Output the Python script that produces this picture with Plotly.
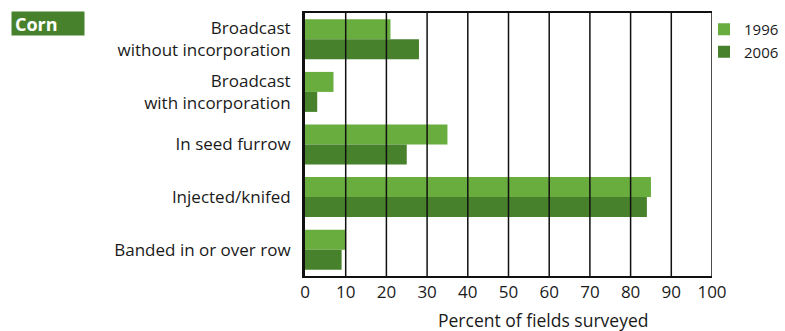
import plotly.graph_objects as go

# Fertilizer placement methods for corn, share of fields surveyed
methods = [
    "Broadcast<br>without incorporation",
    "Broadcast<br>with incorporation",
    "In seed furrow",
    "Injected/knifed",
    "Banded in or over row",
]
pct_1996 = [21, 7, 35, 85, 10]
pct_2006 = [28, 3, 25, 84, 9]
x_ticks = [0, 10, 20, 30, 40, 50, 60, 70, 80, 90, 100]

LIGHT = "#69ad3f"
DARK = "#47812c"
TXT = "#1a1a1a"
FONT = "Open Sans"

L, R, T, B = 305, 73, 13, 55
PW = 785 - L - R
PH = 331 - T - B

fig = go.Figure()
fig.add_trace(go.Bar(y=methods, x=pct_1996, name="1996", orientation="h",
                     marker=dict(color=LIGHT, line=dict(width=0))))
fig.add_trace(go.Bar(y=methods, x=pct_2006, name="2006", orientation="h",
                     marker=dict(color=DARK, line=dict(width=0))))

# vertical grid drawn over the bars
shapes = []
for v in x_ticks[1:]:
    shapes.append(dict(type="line", xref="x", yref="paper", x0=v, x1=v, y0=0, y1=1,
                       line=dict(color="#111111", width=1.5), layer="above"))

fig.update_layout(
    width=785, height=331,
    margin=dict(l=L, r=R, t=T, b=B, autoexpand=False),
    paper_bgcolor="white", plot_bgcolor="white",
    barmode="group", bargap=0.24, bargroupgap=0,
    font=dict(family=FONT, color=TXT, size=16),
    shapes=shapes,
    xaxis=dict(range=[0, 100], tickvals=x_ticks, ticktext=[str(t) for t in x_ticks],
               showgrid=False, zeroline=False, showline=True, linecolor="#111111",
               linewidth=1.5, mirror=True, ticks="", tickfont=dict(size=17, color=TXT)),
    yaxis=dict(autorange="reversed", showgrid=False, zeroline=False, showline=True,
               linecolor="#111111", linewidth=3, ticks="", ticklabelstandoff=8,
               tickfont=dict(size=17, color=TXT)),
    legend=dict(x=(704 - L) / PW, y=1.0, xanchor="left", yanchor="top",
                traceorder="normal", font=dict(family=FONT, size=15, color=TXT),
                itemwidth=30, tracegroupgap=0, bgcolor="rgba(0,0,0,0)"),
    annotations=[
        dict(text="<b>Corn</b>", xref="paper", yref="paper",
             x=(11 - L) / PW, y=1 + 2 / PH, xanchor="left", yanchor="top",
             showarrow=False, align="left", width=66, height=17, borderpad=3,
             bgcolor=DARK, font=dict(color="white", size=18, family=FONT)),
        dict(text="Percent of fields surveyed", xref="paper", yref="paper",
             x=(543 - L) / PW, y=-(320 - 276) / PH, xanchor="center", yanchor="middle",
             showarrow=False, font=dict(size=17.5, color=TXT, family=FONT)),
    ],
)

fig.write_html("out.html")
